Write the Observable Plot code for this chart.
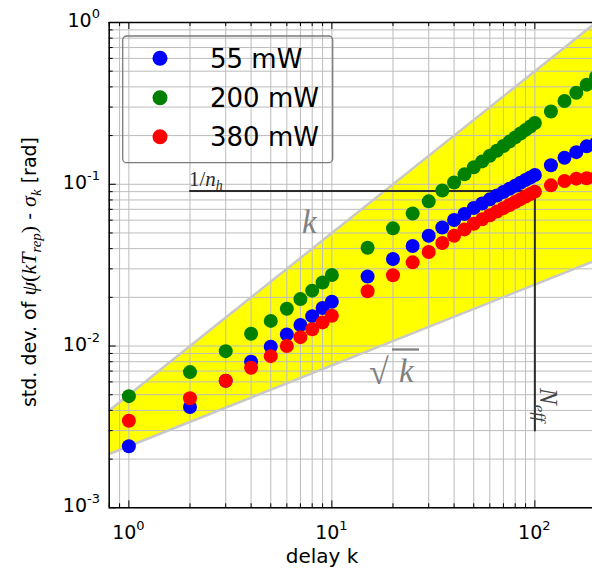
<!DOCTYPE html>
<html>
<head>
<meta charset="utf-8">
<script src="https://cdn.jsdelivr.net/npm/d3@7"></script>
<script src="https://cdn.jsdelivr.net/npm/@observablehq/plot@0.6"></script>
<style>
  html, body { margin: 0; padding: 0; background: #fff; overflow: hidden; }
  svg { display: block; }
</style>
</head>
<body>
<div id="chart"></div>
<script>
// ---- data ----
const delayK = [1,2,3,4,5,6,7,8,9,10,15,20,25,30,35,40,45,50,55,60,65,70,75,80,85,90,95,100,120,140,160,180,200];
const sigma55 = [0.0024,0.0042,0.0061,0.0080,0.0099,0.0118,0.0135,0.0153,0.0172,0.0188,0.0269,0.0345,0.0415,0.0481,0.0541,0.0601,0.0655,0.0713,0.0761,0.0807,0.0852,0.0896,0.0938,0.098,0.1022,0.1062,0.1102,0.114,0.131,0.146,0.158,0.1715,0.179];
const sigma200 = [0.0049,0.0069,0.0093,0.0119,0.0143,0.0170,0.0195,0.0220,0.0247,0.0275,0.0405,0.0534,0.066,0.0784,0.0915,0.1025,0.1152,0.1272,0.1385,0.150,0.161,0.1725,0.1836,0.1948,0.2058,0.2168,0.2278,0.239,0.282,0.327,0.368,0.413,0.460];
const sigma380 = [0.00345,0.00476,0.0061,0.00734,0.00866,0.0100,0.01135,0.0127,0.0140,0.0154,0.0218,0.0274,0.0329,0.0381,0.0433,0.0481,0.0526,0.057,0.0607,0.0643,0.0678,0.0712,0.0745,0.0777,0.0809,0.084,0.087,0.090,0.0985,0.1047,0.1083,0.109,0.110];
const seriesNames = ["55 mW", "200 mW", "380 mW"];
const seriesColors = ["#0000ff", "#008000", "#ff0000"];

// yellow band: upper ~ k, lower ~ sqrt(k)
const bandK = [0.8, 200];
const bandUpper = [0.004, 1.0];
const bandLower = [0.00215, 0.0339];

// 1/n_h and N_eff guide lines
const nhLevel = 0.0908;
const nhStartK = 2;
const nEff = 100;
const nEffBottom = 0.003;

// tick values
const xMajor = [1, 10, 100];
const xMajorExp = ["0", "1", "2"];
const xMinor = [0.8,0.9,2,3,4,5,6,7,8,9,20,30,40,50,60,70,80,90,200];
const yMajor = [0.001, 0.01, 0.1, 1];
const yMajorExp = ["-3", "-2", "-1", "0"];
const yMinor = [0.002,0.003,0.004,0.005,0.006,0.007,0.008,0.009,
                0.02,0.03,0.04,0.05,0.06,0.07,0.08,0.09,
                0.2,0.3,0.4,0.5,0.6,0.7,0.8,0.9];

// ---- tables ----
const points = [];
[sigma55, sigma200, sigma380].forEach((arr, si) => {
  delayK.forEach((k, i) => points.push({k, v: arr[i], s: seriesNames[si]}));
});
const band = bandK.map((k, i) => ({k, lo: bandLower[i], hi: bandUpper[i]}));
const guide = [{k: nhStartK, v: nhLevel}, {k: nEff, v: nhLevel}, {k: nEff, v: nEffBottom}];

const W = 592, H = 571;
const mL = 108.7, mR = 0, mT = 22, mB = 63.7;
const plotW = W - mL - mR, plotH = H - mT - mB;
const gridColor = "#bcbcbc";
const sans = "DejaVu Sans, sans-serif";
const serif = "Liberation Serif, DejaVu Serif, serif";

const chart = Plot.plot({
  width: W, height: H,
  marginLeft: mL, marginRight: mR, marginTop: mT, marginBottom: mB,
  style: {fontFamily: sans, background: "white", overflow: "hidden"},
  x: {type: "log", domain: [0.8, 192.3], axis: null},
  y: {type: "log", domain: [0.001, 1], axis: null},
  color: {domain: seriesNames, range: seriesColors},
  marks: [
    Plot.areaY(band, {x: "k", y1: "lo", y2: "hi", fill: "#ffff00", clip: true}),
    // grid
    Plot.ruleX(xMinor.concat(xMajor), {stroke: gridColor, strokeWidth: 1}),
    Plot.ruleY(yMinor.concat(yMajor), {stroke: gridColor, strokeWidth: 1}),
    // band edges
    Plot.line(band, {x: "k", y: "hi", stroke: "#c8c8c8", strokeWidth: 2.5, clip: true}),
    Plot.line(band, {x: "k", y: "lo", stroke: "#c8c8c8", strokeWidth: 2.5, clip: true}),
    // guide lines
    Plot.line(guide, {x: "k", y: "v", stroke: "#2b2b2b", strokeWidth: 2}),
    // data
    Plot.dot(points, {x: "k", y: "v", fill: "s", r: 7, stroke: "none", clip: true}),
    // frame (left, top, bottom)
    Plot.ruleX([0.8], {stroke: "black", strokeWidth: 1.5}),
    Plot.ruleY([0.001, 1], {stroke: "black", strokeWidth: 1.5}),
    // inward ticks bottom/top
    Plot.tickX(xMajor, {x: d => d, insetTop: plotH - 7, stroke: "black"}),
    Plot.tickX(xMinor, {x: d => d, insetTop: plotH - 4, stroke: "black"}),
    Plot.tickX(xMajor, {x: d => d, insetBottom: plotH - 7, stroke: "black"}),
    Plot.tickX(xMinor, {x: d => d, insetBottom: plotH - 4, stroke: "black"}),
    // inward ticks left
    Plot.tickY(yMajor, {y: d => d, insetRight: plotW - 7, stroke: "black"}),
    Plot.tickY(yMinor, {y: d => d, insetRight: plotW - 4, stroke: "black"})
  ]
});

document.getElementById("chart").appendChild(chart);

// ---- text with super/subscripts, placed through Plot's scales ----
const xs = chart.scale("x"), ys = chart.scale("y");
const svg = d3.select(chart);
const g = svg.append("g").attr("text-anchor", "start").attr("font-family", sans).attr("fill", "black");

// x tick labels
xMajor.forEach((v, i) => {
  const t = g.append("text").attr("x", xs.apply(v)).attr("y", 539)
    .attr("text-anchor", "middle").attr("font-size", 19);
  t.append("tspan").text("10");
  t.append("tspan").attr("font-size", 13).attr("dy", -9).text(xMajorExp[i]);
});
// y tick labels
yMajor.forEach((v, i) => {
  const t = g.append("text").attr("x", 100).attr("y", ys.apply(v) + 5)
    .attr("text-anchor", "end").attr("font-size", 19);
  t.append("tspan").text("10");
  t.append("tspan").attr("font-size", 13).attr("dy", -9).text(yMajorExp[i]);
});

// x label
g.append("text").attr("x", 322).attr("y", 563).attr("text-anchor", "middle")
  .attr("font-size", 20).text("delay k");

// y label
const yl = g.append("text")
  .attr("transform", "translate(36,272) rotate(-90)")
  .attr("text-anchor", "middle").attr("font-size", 19);
yl.append("tspan").text("std. dev. of ");
yl.append("tspan").attr("font-family", serif).attr("font-style", "italic").attr("font-size", 22).text("ψ");
yl.append("tspan").attr("font-family", serif).attr("font-size", 22).text("(");
yl.append("tspan").attr("font-family", serif).attr("font-style", "italic").attr("font-size", 22).text("kT");
yl.append("tspan").attr("font-family", serif).attr("font-style", "italic").attr("font-size", 15).attr("dy", 5).text("rep");
yl.append("tspan").attr("font-family", serif).attr("font-size", 22).attr("dy", -5).text(")");
yl.append("tspan").text(" - ");
yl.append("tspan").attr("font-family", serif).attr("font-style", "italic").attr("font-size", 22).text("σ");
yl.append("tspan").attr("font-family", serif).attr("font-style", "italic").attr("font-size", 15).attr("dy", 5).text("k");
yl.append("tspan").attr("dy", -5).text(" [rad]");

// band labels
g.append("text").attr("x", 302).attr("y", 233)
  .attr("font-family", serif).attr("font-style", "italic").attr("font-size", 33)
  .attr("fill", "#808080").text("k");
g.append("text").attr("x", 369).attr("y", 384)
  .attr("font-family", serif).attr("font-size", 36)
  .attr("fill", "#808080").text("√");
g.append("line").attr("x1", 392).attr("x2", 419).attr("y1", 349.5).attr("y2", 349.5)
  .attr("stroke", "#808080").attr("stroke-width", 2.3);
g.append("text").attr("x", 399).attr("y", 382)
  .attr("font-family", serif).attr("font-style", "italic").attr("font-size", 33)
  .attr("fill", "#808080").text("k");

// 1/n_h
const nh = g.append("text").attr("x", 189).attr("y", 186)
  .attr("font-family", serif).attr("font-size", 21).attr("fill", "#2b2b2b");
nh.append("tspan").text("1/");
nh.append("tspan").attr("font-style", "italic").text("n");
nh.append("tspan").attr("font-style", "italic").attr("font-size", 14).attr("dy", 4).text("h");

// N_eff
const ne = g.append("text").attr("transform", "translate(540,388) rotate(90)")
  .attr("font-family", serif).attr("font-size", 25).attr("fill", "#444");
ne.append("tspan").attr("font-style", "italic").text("N");
ne.append("tspan").attr("font-style", "italic").attr("font-size", 17).attr("dy", 6).text("eff");

// legend
const lg = g.append("g");
lg.append("rect").attr("x", 122.7).attr("y", 36).attr("width", 210).attr("height", 126.7)
  .attr("rx", 4).attr("fill", "none").attr("stroke", "#7a7a7a").attr("stroke-width", 1.3);
const legY = [58.3, 97.7, 136.7];
seriesNames.forEach((name, i) => {
  lg.append("circle").attr("cx", 160).attr("cy", legY[i]).attr("r", 7.5).attr("fill", seriesColors[i]);
  lg.append("text").attr("x", 210).attr("y", legY[i] + 9.5)
    .attr("font-size", 26).text(name);
});
</script>
</body>
</html>
